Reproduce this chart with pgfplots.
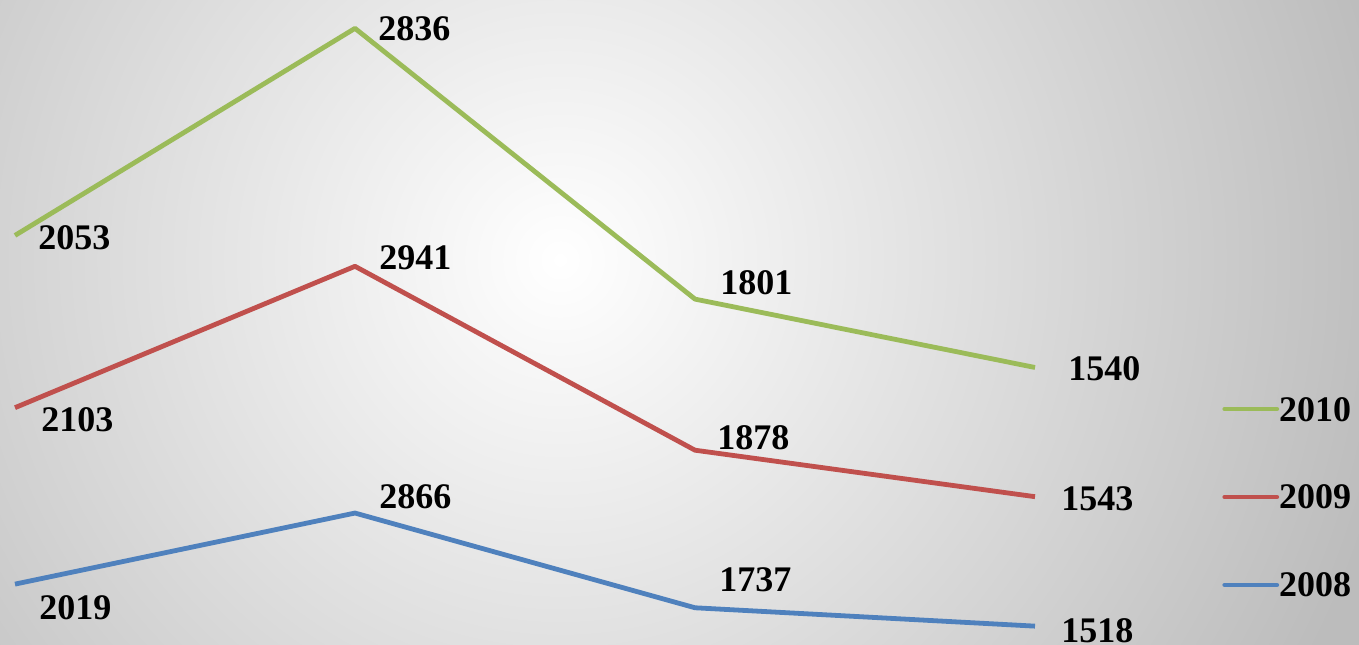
\documentclass[border=0pt]{standalone}
\usepackage{pgfplots}
\pgfplotsset{compat=1.18}
\usepackage{pgfplotstable}
\usepackage{fontspec}
\setmainfont{Liberation Serif}

\definecolor{cgreen}{RGB}{155,187,89}
\definecolor{cred}{RGB}{192,80,77}
\definecolor{cblue}{RGB}{79,129,189}
\definecolor{edge}{RGB}{188,188,188}

% x y  label shifts (pt)
\pgfplotstableread{
x y dx dy
0 2019 11 -11.5
1 2866 11 8.5
2 1737 11 14
3 1518 12 -2
}\ya
\pgfplotstableread{
x y dx dy
0 2103 12 -6
1 2941 11 4.5
2 1878 10 6.5
3 1543 12 -1
}\yb
\pgfplotstableread{
x y dx dy
0 2053 10.5 -1
1 2836 10.5 0
2 1801 11.5 8.5
3 1540 15.5 -0.5
}\yc

\begin{document}
\begin{tikzpicture}
\useasboundingbox (0,0) rectangle (679.5pt,322pt);
\begin{scope}
  \clip (-2pt,-2pt) rectangle (682pt,324pt);
  \fill[edge] (-2pt,-2pt) rectangle (682pt,324pt);
  \shade[inner color=white, outer color=edge] (280pt,192pt) circle (425pt);
\end{scope}
\begin{axis}[
  at={(7.5pt,-12.8pt)}, anchor=south west,
  scale only axis, width=510pt, height=335.6pt,
  xmin=0, xmax=3, ymin=1000, ymax=9000,
  hide axis, clip=false,
  stack plots=y,
  every axis plot/.append style={line width=2.4pt, line join=round, mark=none},
  point meta=explicit symbolic,
  visualization depends on={\thisrow{dx} \as \dx},
  visualization depends on={\thisrow{dy} \as \dy},
  nodes near coords={\pgfplotspointmeta},
  nodes near coords style={anchor=west, inner sep=0pt, text depth=0pt,
    xshift=\dx pt, yshift=\dy pt, text=black,
    font=\fontsize{18}{20}\selectfont\bfseries},
  legend image code/.code={\draw[#1, line width=2.4pt, line cap=round] (1pt,0pt) -- (27pt,0pt);},
  reverse legend,
  legend cell align=left,
  legend style={at={(1.1833,0.2572)}, anchor=west, draw=none, fill=none,
    inner sep=0pt, row sep=32pt,
    nodes={inner sep=0pt, text depth=0pt},
    font=\fontsize{18}{20}\selectfont\bfseries},
]
\addplot[cblue] table[x=x, y=y, meta=y] {\ya};
\addlegendentry{2008}
\addplot[cred] table[x=x, y=y, meta=y] {\yb};
\addlegendentry{2009}
\addplot[cgreen] table[x=x, y=y, meta=y] {\yc};
\addlegendentry{2010}
\end{axis}
\end{tikzpicture}
\end{document}
